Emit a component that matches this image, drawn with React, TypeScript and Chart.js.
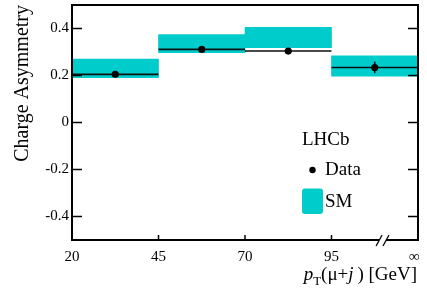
import React, { useEffect, useRef } from 'react';
import { Chart, registerables } from 'chart.js';

Chart.register(...registerables);

// ---- data ----
const xTickValues = [0, 1, 2, 3, 4];
const xTickLabels = ['20', '45', '70', '95', '\u221E\u2002'];
const binIndex = [0, 1, 2, 3];
const dataValues = [0.205, 0.311, 0.304, 0.234];
const dataErrors = [0.01, 0.01, 0.01, 0.024];
const smLow = [0.191, 0.297, 0.318, 0.197];
const smHigh = [0.27, 0.374, 0.405, 0.284];
const yTickValues = [-0.4, -0.2, 0, 0.2, 0.4];
const yTickLabels = ['-0.4', '-0.2', '0', '0.2', '0.4'];

const FONT = "'Liberation Serif', 'Times New Roman', serif";
const BAND = '#00cccc';

const decor = {
  id: 'decor',
  afterDraw(chart: any) {
    const { ctx, chartArea: a, scales } = chart;
    const xs = scales.x;
    const ys = scales.y;
    ctx.save();
    ctx.strokeStyle = '#000';
    ctx.lineWidth = 1.5;
    // inside ticks on y (left and right)
    yTickValues.forEach((v) => {
      const y = ys.getPixelForValue(v);
      ctx.beginPath();
      ctx.moveTo(a.left, y);
      ctx.lineTo(a.left + 10, y);
      ctx.moveTo(a.right, y);
      ctx.lineTo(a.right - 10, y);
      ctx.stroke();
    });
    // inside ticks on x
    xTickValues.slice(1, 4).forEach((v) => {
      const x = xs.getPixelForValue(v);
      ctx.beginPath();
      ctx.moveTo(x, a.bottom);
      ctx.lineTo(x, a.bottom - 5);
      ctx.stroke();
    });
    // frame
    ctx.lineWidth = 2;
    ctx.strokeRect(a.left, a.top, a.right - a.left, a.bottom - a.top);
    // axis break
    const b1 = xs.getPixelForValue(3.55);
    const b2 = xs.getPixelForValue(3.63);
    ctx.fillStyle = '#fff';
    ctx.fillRect(b1, a.bottom - 2, b2 - b1, 4);
    ctx.lineWidth = 1.3;
    [b1, b2].forEach((bx) => {
      ctx.beginPath();
      ctx.moveTo(bx - 3, a.bottom + 6);
      ctx.lineTo(bx + 3, a.bottom - 5);
      ctx.stroke();
    });

    // legend
    ctx.fillStyle = '#000';
    ctx.textBaseline = 'alphabetic';
    ctx.textAlign = 'left';
    ctx.font = `19px ${FONT}`;
    ctx.fillText('LHCb', 302, 145);
    ctx.beginPath();
    ctx.arc(312.5, 170, 3.2, 0, Math.PI * 2);
    ctx.fill();
    ctx.fillText('Data', 325, 175);
    ctx.fillStyle = BAND;
    ctx.beginPath();
    (ctx as any).roundRect ? (ctx as any).roundRect(302, 188.5, 21, 25.5, 3) : ctx.rect(302, 188.5, 21, 25.5);
    ctx.fill();
    ctx.fillStyle = '#000';
    ctx.fillText('SM', 325, 207);

    // x title: p_T(mu+j ) [GeV], right aligned
    const pieces: { t: string; f: string; dy: number }[] = [
      { t: 'p', f: `italic 19px ${FONT}`, dy: 0 },
      { t: 'T', f: `13px ${FONT}`, dy: 5 },
      { t: '(\u03BC+', f: `19px ${FONT}`, dy: 0 },
      { t: 'j', f: `italic 19px ${FONT}`, dy: 0 },
      { t: '\u2009) [GeV]', f: `19px ${FONT}`, dy: 0 },
    ];
    let total = 0;
    const widths = pieces.map((p) => {
      ctx.font = p.f;
      const w = ctx.measureText(p.t).width;
      total += w;
      return w;
    });
    let x = 417 - total;
    const base = 280;
    pieces.forEach((p, i) => {
      ctx.font = p.f;
      ctx.fillText(p.t, x, base + p.dy);
      x += widths[i];
    });
    ctx.restore();
  },
};

export default function App() {
  const ref = useRef<HTMLCanvasElement | null>(null);
  useEffect(() => {
    if (!ref.current) return;
    const hLine: any[] = [];
    binIndex.forEach((i) => {
      hLine.push({ x: i, y: dataValues[i] }, { x: i + 1, y: dataValues[i] }, { x: i + 1, y: null });
    });
    const vLine: any[] = [];
    binIndex.forEach((i) => {
      vLine.push(
        { x: i + 0.5, y: dataValues[i] - dataErrors[i] },
        { x: i + 0.5, y: dataValues[i] + dataErrors[i] },
        { x: i + 0.5, y: null }
      );
    });
    const chart = new Chart(ref.current, {
      type: 'bar',
      data: {
        datasets: [
          {
            type: 'bar',
            label: 'SM',
            data: binIndex.map((i) => ({ x: i + 0.5, y: [smLow[i], smHigh[i]] })) as any,
            backgroundColor: BAND,
            borderWidth: 0,
            barPercentage: 1,
            categoryPercentage: 1,
            order: 3,
          } as any,
          {
            type: 'line',
            label: 'xerr',
            data: hLine,
            borderColor: '#111',
            borderWidth: 1.6,
            pointRadius: 0,
            spanGaps: false,
            order: 2,
          } as any,
          {
            type: 'line',
            label: 'yerr',
            data: vLine,
            borderColor: '#111',
            borderWidth: 1.6,
            pointRadius: 0,
            spanGaps: false,
            order: 1,
          } as any,
          {
            type: 'scatter',
            label: 'Data',
            data: binIndex.map((i) => ({ x: i + 0.5, y: dataValues[i] })),
            backgroundColor: '#000',
            borderWidth: 0,
            pointRadius: 3.6,
            order: 0,
          } as any,
        ],
      },
      options: {
        responsive: false,
        animation: false,
        devicePixelRatio: 1,
        layout: { padding: { left: 0, right: 9, top: 5, bottom: 0 } },
        plugins: { legend: { display: false }, tooltip: { enabled: false } },
        scales: {
          x: {
            type: 'linear',
            min: 0,
            max: 4,
            offset: false,
            grid: { display: false, drawTicks: false },
            border: { display: false },
            afterBuildTicks: (s: any) => {
              s.ticks = xTickValues.map((v) => ({ value: v }));
            },
            afterFit: (s: any) => {
              s.height = 50;
              s.paddingLeft = 0;
              s.paddingRight = 0;
            },
            ticks: {
              autoSkip: false,
              maxRotation: 0,
              padding: 8,
              color: '#000',
              font: { family: FONT, size: 15 },
              callback: (v: any) => xTickLabels[xTickValues.indexOf(Number(v))] ?? '',
            },
          },
          y: {
            type: 'linear',
            min: -0.5,
            max: 0.5,
            grid: { display: false, drawTicks: false },
            border: { display: false },
            afterBuildTicks: (s: any) => {
              s.ticks = yTickValues.map((v) => ({ value: v }));
            },
            afterFit: (s: any) => {
              s.width = 72;
              s.paddingTop = 0;
              s.paddingBottom = 0;
            },
            ticks: {
              padding: 3,
              color: '#000',
              font: { family: FONT, size: 15 },
              callback: (v: any) => {
                const idx = yTickValues.findIndex((t) => Math.abs(t - Number(v)) < 1e-9);
                return idx >= 0 ? yTickLabels[idx] : '';
              },
            },
            title: {
              display: true,
              text: 'Charge Asymmetry',
              align: 'end',
              color: '#000',
              font: { family: FONT, size: 20 },
              padding: { top: 11, bottom: 0 },
            },
          },
        },
      } as any,
      plugins: [decor],
    });
    return () => chart.destroy();
  }, []);
  return (
    <div style={{ position: 'fixed', left: 0, top: 0, width: 427, height: 290, background: '#fff' }}>
      <canvas ref={ref} width={427} height={290} />
    </div>
  );
}
